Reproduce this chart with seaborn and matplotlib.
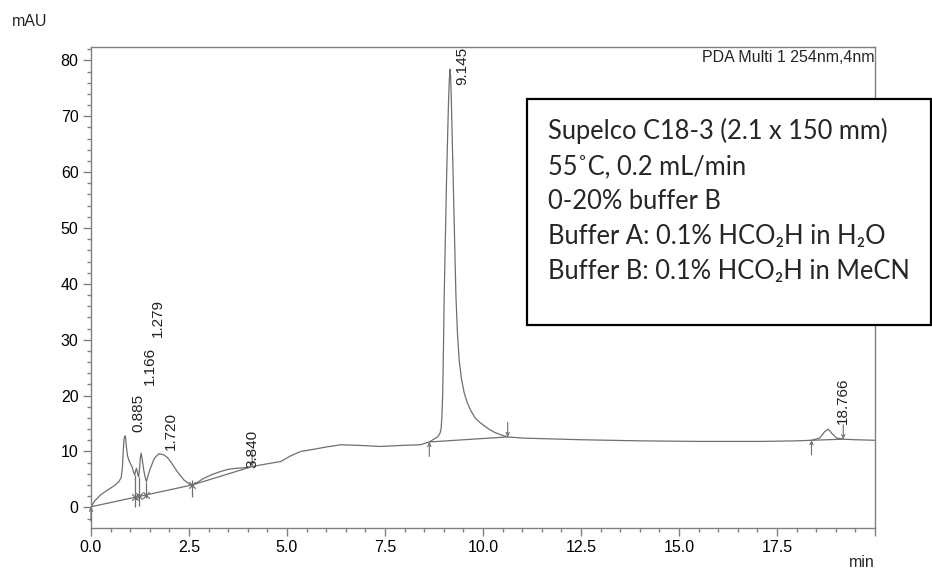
import matplotlib
matplotlib.use("Agg")
import matplotlib.pyplot as plt
import seaborn as sns
import pandas as pd
from matplotlib.ticker import MultipleLocator, FixedLocator, FixedFormatter
from matplotlib.patches import Rectangle

# ---------------- data ----------------
time_min = [0.00, 0.10, 0.24, 0.40, 0.58, 0.70, 0.77, 0.80, 0.82, 0.84, 0.86, 0.877, 0.90, 0.93, 0.962,
            1.00, 1.05, 1.09, 1.115, 1.14, 1.16, 1.18, 1.20, 1.217, 1.24, 1.26, 1.278, 1.30,
            1.345, 1.38, 1.413, 1.46, 1.515, 1.618, 1.73, 1.86, 1.95, 2.03, 2.20, 2.37, 2.54,
            2.58, 2.70, 2.88, 3.10, 3.30, 3.50, 3.73, 3.95, 4.11, 4.50, 4.84, 5.09, 5.35, 5.69,
            6.00, 6.37, 6.80, 7.39, 7.99, 8.40, 8.63, 8.84, 8.90, 8.93, 8.95, 8.97, 8.99, 9.01,
            9.04, 9.07, 9.10, 9.12, 9.14, 9.16, 9.175, 9.19, 9.21, 9.23, 9.25, 9.27, 9.29, 9.31,
            9.35, 9.39, 9.45, 9.52, 9.60, 9.69, 9.80, 9.92, 10.03, 10.15, 10.30, 10.45, 10.63,
            11.00, 11.48, 12.50, 14.00, 15.50, 17.10, 18.00, 18.38, 18.59, 18.72, 18.81, 18.89,
            19.02, 19.19, 19.50, 20.00]
signal_mau = [0.1, 1.2, 2.2, 3.0, 3.8, 4.5, 5.3, 7.0, 9.7, 12.1, 12.7, 12.8, 11.0, 9.3, 8.5,
              7.9, 7.2, 6.2, 5.8, 6.6, 7.0, 6.4, 5.7, 5.5, 7.0, 9.0, 9.7, 8.9,
              6.7, 5.4, 4.6, 5.8, 7.0, 8.8, 9.6, 9.4, 8.9, 8.2, 6.4, 4.9, 4.0,
              4.0, 4.4, 5.2, 5.9, 6.4, 6.8, 7.0, 7.1, 7.3, 7.8, 8.2, 9.2, 10.0, 10.4,
              10.8, 11.2, 11.1, 10.9, 11.1, 11.2, 11.7, 12.6, 13.2, 14.0, 16.0, 19.8, 28.0, 37.7,
              48.0, 58.6, 67.0, 72.5, 76.5, 78.4, 77.0, 73.5, 67.5, 61.6, 55.5, 49.6, 43.5, 37.7,
              31.0, 26.5, 23.0, 20.5, 18.7, 17.3, 16.0, 15.2, 14.6, 14.0, 13.4, 13.0, 12.6,
              12.4, 12.3, 12.1, 11.9, 11.8, 11.8, 11.9, 12.0, 12.4, 13.6, 14.0, 13.3,
              12.4, 12.2, 12.1, 12.0]

peak_labels = ["0.885", "1.166", "1.279", "1.720", "3.840", "9.145", "18.766"]
label_x = [1.21, 1.49, 1.71, 2.05, 4.12, 9.48, 19.18]
label_y = [13.5, 21.9, 30.5, 10.3, 7.1, 75.6, 15.0]

base_t0 = [0.00, 2.58, 8.63, 18.38]
base_t1 = [2.58, 4.11, 10.63, 19.19]
base_y0 = [0.1, 4.0, 11.7, 12.0]
base_y1 = [4.0, 7.3, 12.6, 12.2]

split_t = [1.115, 1.217, 1.413, 2.58]
split_hi = [5.8, 5.5, 4.6, 4.9]
split_lo = [0.1, 0.2, 1.6, 1.9]
split_base = [1.8, 1.95, 2.25, 4.0]

arrow_up_t = [0.00, 8.63, 18.38]
arrow_up_y = [0.1, 11.7, 12.0]
arrow_down_t = [4.11, 10.63, 19.19]
arrow_down_y = [7.3, 12.6, 12.2]

x_major = [0.0, 2.5, 5.0, 7.5, 10.0, 12.5, 15.0, 17.5, 20.0]
x_major_labels = ["0.0", "2.5", "5.0", "7.5", "10.0", "12.5", "15.0", "17.5", ""]
y_major = [0, 10, 20, 30, 40, 50, 60, 70, 80]

box_lines = ["Supelco C18-3 (2.1 x 150 mm)",
             "55˚C, 0.2 mL/min",
             "0-20% buffer B",
             "Buffer A: 0.1% HCO₂H in H₂O",
             "Buffer B: 0.1% HCO₂H in MeCN"]

# ---------------- style ----------------
sns.set_style("ticks")
plt.rcParams['font.family'] = ['Liberation Sans', 'DejaVu Sans']

W, H = 932, 571
fig = plt.figure(figsize=(W / 100, H / 100), dpi=100)
ax = fig.add_axes([91 / W, (H - 528) / H, (875 - 91) / W, (528 - 47) / H])

trace_color = "#6f6f6f"
spine_color = "#808080"

df = pd.DataFrame({"t": time_min, "mAU": signal_mau})
sns.lineplot(data=df, x="t", y="mAU", ax=ax, color=trace_color, linewidth=0.9,
             estimator=None, sort=False)

# integration baselines
for t0, t1, y0, y1 in zip(base_t0, base_t1, base_y0, base_y1):
    ax.plot([t0, t1], [y0, y1], color=trace_color, linewidth=0.9)

# peak separation marks
ax.vlines(split_t, split_lo, split_hi, color=trace_color, linewidth=0.9)
ax.scatter(split_t, split_base, marker="x", s=22, color=trace_color, linewidths=0.9, zorder=3)

# start / end arrows
for t, y in zip(arrow_up_t, arrow_up_y):
    ax.annotate("", xy=(t, y), xytext=(t, y - 2.6),
                arrowprops=dict(arrowstyle="->", color=trace_color, lw=0.8,
                                mutation_scale=6, shrinkA=0, shrinkB=0))
for t, y in zip(arrow_down_t, arrow_down_y):
    ax.annotate("", xy=(t, y), xytext=(t, y + 2.6),
                arrowprops=dict(arrowstyle="->", color=trace_color, lw=0.8,
                                mutation_scale=6, shrinkA=0, shrinkB=0))

# peak labels
for lab, x, y in zip(peak_labels, label_x, label_y):
    ax.text(x, y, lab, rotation=90, ha="center", va="bottom", fontsize=11, color="#222222")

# axes
ax.set_xlim(0, 20)
ax.set_ylim(-3.7, 82.4)
ax.xaxis.set_major_locator(FixedLocator(x_major))
ax.xaxis.set_major_formatter(FixedFormatter(x_major_labels))
ax.xaxis.set_minor_locator(MultipleLocator(0.5))
ax.yaxis.set_major_locator(FixedLocator(y_major))
ax.yaxis.set_minor_locator(MultipleLocator(2))
ax.set_xlabel("")
ax.set_ylabel("")
for s in ax.spines.values():
    s.set_visible(True)
    s.set_color(spine_color)
    s.set_linewidth(1.0)
ax.tick_params(which="major", direction="out", length=6, width=1.0, color=spine_color,
               labelsize=11.5, labelcolor="black", pad=3)
ax.tick_params(which="minor", direction="out", length=3, width=1.0, color=spine_color)

fig.text(12 / W, 1 - 26 / H, "mAU", fontsize=11.5, ha="left", va="baseline")
fig.text(875 / W, 1 - 567 / H, "min", fontsize=11.5, ha="right", va="baseline")
fig.text(874 / W, 1 - 61.5 / H, "PDA Multi 1 254nm,4nm", fontsize=11.5, ha="right",
         va="baseline")

# annotation box
rect = Rectangle((527 / W, 1 - 325 / H), (931 - 527) / W, (325 - 99) / H,
                 transform=fig.transFigure, facecolor="white", edgecolor="black",
                 linewidth=1.6, zorder=10)
fig.patches.append(rect)
box_baselines = [139, 174, 209, 244, 279]
for line, py in zip(box_lines, box_baselines):
    fig.text(548 / W, 1 - py / H, line, fontsize=18.4, ha="left", va="baseline",
             family=["Lato", "DejaVu Sans"], zorder=11)

fig.savefig("out.png", dpi=100)
